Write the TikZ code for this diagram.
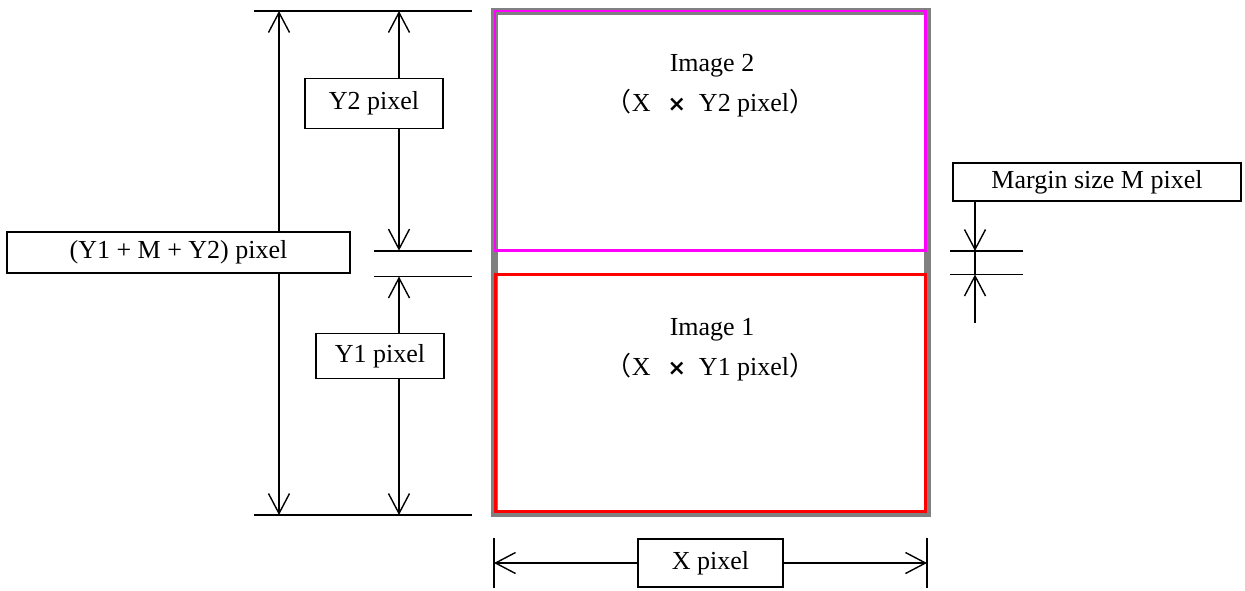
\documentclass[tikz,border=0pt]{standalone}
\usepackage{fontspec}
\setmainfont{Liberation Serif}
\newfontfamily\cjk{Noto Sans CJK JP}
\newfontfamily\djv{DejaVu Sans}
\usetikzlibrary{arrows.meta}
\tikzset{
  lbl/.style={draw=black, line width=1.8pt, fill=white, inner sep=0pt, font=\fontsize{26}{30}\selectfont},
  itxt/.style={inner sep=0pt, anchor=base, font=\fontsize{26}{30}\selectfont},
  dimline/.style={line width=1.8pt},
  dimarrow/.style={line width=1.4pt, -{Straight Barb[length=20pt,width=21pt,line width=1.4pt]}},
  dimboth/.style={line width=1.4pt, {Straight Barb[length=20pt,width=21pt,line width=1.4pt]}-{Straight Barb[length=20pt,width=21pt,line width=1.4pt]}},
  tick/.style={line width=1.8pt}
}
\newcommand{\tms}{{\djv\bfseries\fontsize{22}{26}\selectfont ×}}
\begin{document}
\begin{tikzpicture}[x=1pt,y=-1pt]
\useasboundingbox (0,0) rectangle (1245,590);
% frames
\draw[line width=7pt, color={rgb,255:red,128;green,128;blue,128}] (494.5,11) rectangle (927,513.5);
\draw[line width=2.6pt, color={rgb,255:red,255;green,0;blue,255}] (494.8,11) rectangle (925.6,250.6);
\draw[line width=3pt, color={rgb,255:red,255;green,0;blue,0}] (495.2,274.5) rectangle (925.2,511.8);
% image texts
\node[itxt] (i2a) at (712,71) {Image 2};
\node[itxt] (i2b) at (710.5,111) {{\cjk （}X\hspace{17pt}\tms\hspace{13pt}Y2 pixel{\cjk ）}};
\node[itxt] (i1a) at (712,335) {Image 1};
\node[itxt] (i1b) at (710.5,375) {{\cjk （}X\hspace{17pt}\tms\hspace{13pt}Y1 pixel{\cjk ）}};
% left extension lines
\coordinate (t1) at (254,11);  \coordinate (t2) at (472,11);
\coordinate (m1) at (374,250.6); \coordinate (m2) at (472,250.6);
\coordinate (n1) at (374,276.5); \coordinate (n2) at (472,276.5);
\coordinate (b1) at (254,515); \coordinate (b2) at (472,515);
\draw[dimline] (t1) -- (t2);
\draw[dimline] (m1) -- (m2);
\draw[dimline] (n1) -- (n2);
\draw[dimline] (b1) -- (b2);
% big dimension
\coordinate (ba) at (279,11); \coordinate (bb) at (279,515);
\draw[dimboth] (ba) -- (bb);
\node[lbl, minimum width=343pt, minimum height=41pt] (tot) at (178.5,252.5) {(Y1 + M + Y2) pixel};
% Y2 dimension
\coordinate (y2a) at (399,11); \coordinate (y2b) at (399,250.6);
\draw[dimboth] (y2a) -- (y2b);
\node[lbl, minimum width=138pt, minimum height=50pt] (y2) at (374,103.5) {Y2 pixel};
% Y1 dimension
\coordinate (y1a) at (399,276.5); \coordinate (y1b) at (399,515);
\draw[dimboth] (y1a) -- (y1b);
\node[lbl, minimum width=128pt, minimum height=45pt] (y1) at (380,356) {Y1 pixel};
% margin
\coordinate (r1) at (950,251); \coordinate (r2) at (1023,251);
\coordinate (s1) at (950,274.5); \coordinate (s2) at (1023,274.5);
\draw[dimline] (r1) -- (r2);
\draw[dimline] (s1) -- (s2);
\coordinate (mv1) at (975,251); \coordinate (mv2) at (975,274.5);
\draw[line width=1.6pt] (mv1) -- (mv2);
\node[lbl, minimum width=288pt, minimum height=38pt] (mar) at (1097,182) {Margin size M pixel};
\coordinate (mt) at (975,201);
\coordinate (mb) at (975,323);
\draw[dimarrow] (mt) -- (mv1);
\draw[dimarrow] (mb) -- (mv2);
% X dimension
\coordinate (xl1) at (494,538); \coordinate (xl2) at (494,588);
\coordinate (xr1) at (927,538); \coordinate (xr2) at (927,588);
\draw[tick] (xl1) -- (xl2);
\draw[tick] (xr1) -- (xr2);
\coordinate (xa) at (494,563); \coordinate (xb) at (927,563);
\draw[dimboth] (xa) -- (xb);
\node[lbl, minimum width=145pt, minimum height=48pt] (xp) at (710.5,563) {X pixel};
\end{tikzpicture}
\end{document}
